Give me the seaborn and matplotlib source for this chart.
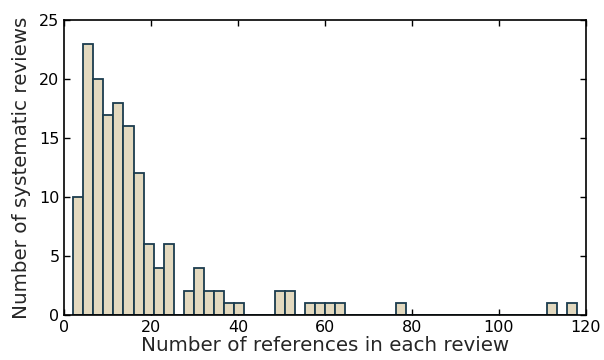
import numpy as np
import pandas as pd
import matplotlib
matplotlib.use("Agg")
import matplotlib.pyplot as plt
import seaborn as sns

# Histogram counts per bin (50 equal bins between min and max)
bin_min = 2
bin_max = 118
n_bins = 50
counts = [10, 23, 20, 17, 18, 16, 12, 6, 4, 6,
          0, 2, 4, 2, 2, 1, 1, 0, 0, 0,
          2, 2, 0, 1, 1, 1, 1, 0, 0, 0,
          0, 0, 1, 0, 0, 0, 0, 0, 0, 0,
          0, 0, 0, 0, 0, 0, 0, 1, 0, 1]

edges = np.linspace(bin_min, bin_max, n_bins + 1)
centers = (edges[:-1] + edges[1:]) / 2
df = pd.DataFrame({"refs": centers, "n": counts})

sns.set_style("white")
plt.rcParams['font.family'] = ['DejaVu Sans']

fig = plt.figure(figsize=(6.04, 3.6), dpi=100)
ax = fig.add_axes([0.1065, 0.125, 0.8635, 0.819])

sns.histplot(data=df, x="refs", weights="n", bins=n_bins, binrange=(bin_min, bin_max),
             ax=ax, color="#e3d9bf", edgecolor="#1b3c4e", linewidth=1.3, alpha=1)

ax.set_xlim(0, 120)
ax.set_ylim(0, 25)
ax.set_xticks([0, 20, 40, 60, 80, 100, 120])
ax.set_yticks([0, 5, 10, 15, 20, 25])
ax.tick_params(direction="in", length=4.5, width=1, labelsize=11.5, top=True, right=True,
               bottom=True, left=True, colors="black")
for s in ax.spines.values():
    s.set_visible(True)
    s.set_color("black")
    s.set_linewidth(1.2)
ax.set_xlabel("Number of references in each review", fontsize=14.3, labelpad=1)
ax.set_ylabel("Number of systematic reviews", fontsize=14.3, labelpad=6)

fig.savefig("out.png", dpi=100)
